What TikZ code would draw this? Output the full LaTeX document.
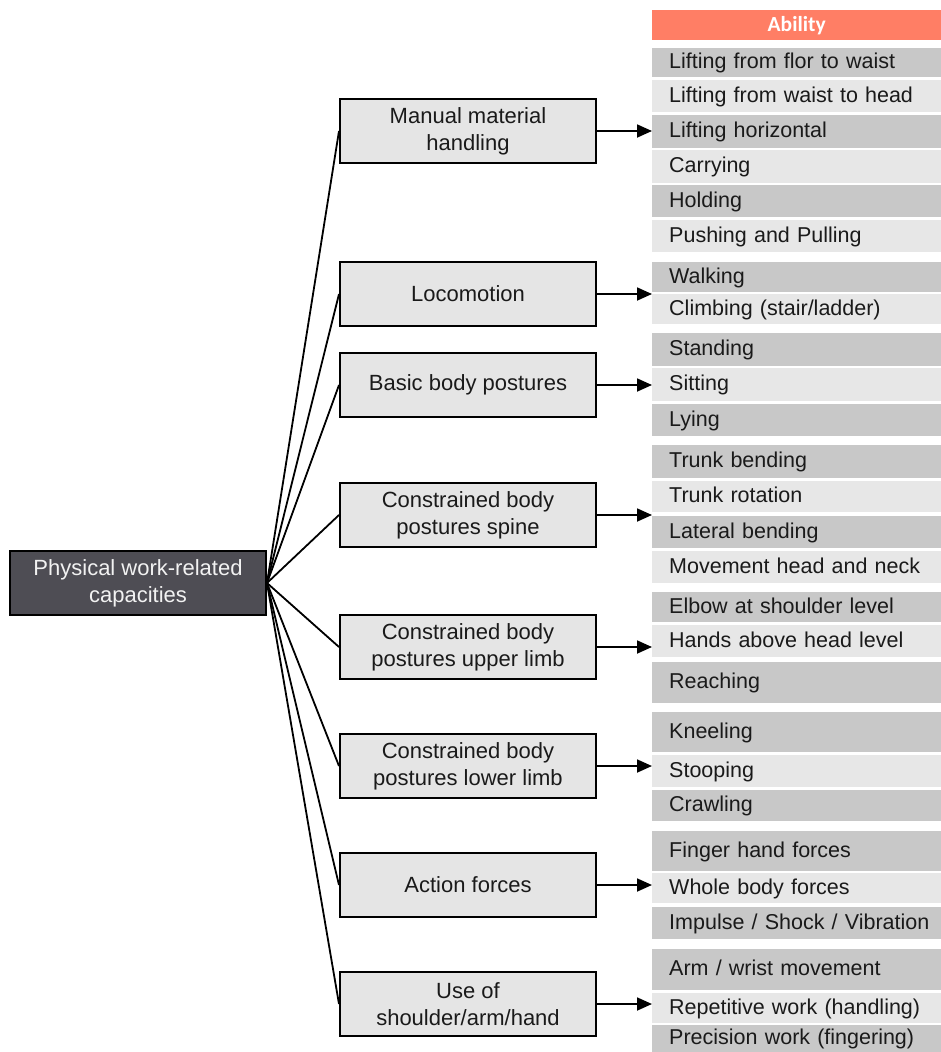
\documentclass[tikz,border=0pt]{standalone}
\usepackage{fontspec}
\setmainfont{Liberation Sans}
\newfontfamily\headfont{Carlito}
\usetikzlibrary{arrows.meta}

\definecolor{bandDark}{RGB}{200,200,200}
\definecolor{bandLight}{RGB}{231,231,231}
\definecolor{boxFill}{RGB}{229,229,229}
\definecolor{rootFill}{RGB}{78,77,84}
\definecolor{rootText}{RGB}{242,242,242}
\definecolor{headFill}{RGB}{255,126,101}
\definecolor{ink}{RGB}{26,26,26}

\tikzset{
  txt/.style={font=\fontsize{22}{27}\selectfont, text=ink},
  band/.style={font=\fontsize{21.5}{26}\selectfont, text=ink, rectangle, anchor=north west,
    inner xsep=0pt, inner ysep=0pt,
    text width=289pt, align=left, minimum width=289pt,
    text height=16pt, text depth=3.5pt},
  dk/.style={band, fill=bandDark},
  lt/.style={band, fill=bandLight},
  cat/.style={txt, rectangle, draw=black, line width=2pt, fill=boxFill,
    minimum width=256pt, minimum height=64pt, align=center, inner sep=0pt},
  root/.style={cat, fill=rootFill, text=rootText},
  link/.style={draw=black, line width=1.8pt},
  arr/.style={draw=black, line width=1.8pt, -{Triangle[length=15pt,width=13pt]}}
}

\newcommand{\ind}{\hspace*{17pt}}

\begin{document}
\begin{tikzpicture}[x=1pt,y=-1pt]
\useasboundingbox (0,0) rectangle (941,1052);

% ability column
\node[rectangle, fill=headFill, anchor=north west, minimum width=289pt, minimum height=30pt,
  inner sep=0pt, text=white, font=\headfont\bfseries\fontsize{21.5}{25}\selectfont] (head) at (652,10) {Ability};

\node[dk, minimum height=29pt] (r1) at (652,48) {\ind Lifting from flor to waist};
\node[lt, minimum height=32pt] (r2) at (652,80) {\ind Lifting from waist to head};
\node[dk, minimum height=33pt] (r3) at (652,115) {\ind Lifting horizontal};
\node[lt, minimum height=33pt] (r4) at (652,150) {\ind Carrying};
\node[dk, minimum height=32pt] (r5) at (652,185) {\ind Holding};
\node[lt, minimum height=32pt] (r6) at (652,220) {\ind Pushing and Pulling};

\node[dk, minimum height=30pt] (r7) at (652,262) {\ind Walking};
\node[lt, minimum height=30pt] (r8) at (652,294) {\ind Climbing (stair/ladder)};

\node[dk, minimum height=33pt] (r9) at (652,333) {\ind Standing};
\node[lt, minimum height=33pt] (r10) at (652,368) {\ind Sitting};
\node[dk, minimum height=32pt] (r11) at (652,404) {\ind Lying};

\node[dk, minimum height=33pt] (r12) at (652,445) {\ind Trunk bending};
\node[lt, minimum height=31pt] (r13) at (652,481) {\ind Trunk rotation};
\node[dk, minimum height=32pt] (r14) at (652,516) {\ind Lateral bending};
\node[lt, minimum height=32pt] (r15) at (652,551) {\ind Movement head and neck};

\node[dk, minimum height=30pt] (r16) at (652,592) {\ind Elbow at shoulder level};
\node[lt, minimum height=32pt] (r17) at (652,625) {\ind Hands above head level};
\node[dk, minimum height=41pt] (r18) at (652,662) {\ind Reaching};

\node[dk, minimum height=40pt] (r19) at (652,712) {\ind Kneeling};
\node[lt, minimum height=32pt] (r20) at (652,755) {\ind Stooping};
\node[dk, minimum height=31pt] (r21) at (652,790) {\ind Crawling};

\node[dk, minimum height=40pt] (r22) at (652,831) {\ind Finger hand forces};
\node[lt, minimum height=30pt] (r23) at (652,873) {\ind Whole body forces};
\node[dk, minimum height=32pt] (r24) at (652,907) {\ind Impulse / Shock / Vibration};

\node[dk, minimum height=41pt] (r25) at (652,949) {\ind Arm / wrist movement};
\node[lt, minimum height=30pt] (r26) at (652,993) {\ind Repetitive work (handling)};
\node[dk, minimum height=27pt] (r27) at (652,1025) {\ind Precision work (fingering)};

% capacity categories
\node[cat] (mmh) at (468,131) {Manual material\\handling};
\node[cat] (loc) at (468,294) {Locomotion};
\node[cat] (bbp) at (468,385) {Basic body postures};
\node[cat] (cps) at (468,515) {Constrained body\\postures spine};
\node[cat] (cpu) at (468,647) {Constrained body\\postures upper limb};
\node[cat] (cpl) at (468,766) {Constrained body\\postures lower limb};
\node[cat] (act) at (468,885) {Action forces};
\node[cat] (use) at (468,1004) {Use of\\shoulder/arm/hand};

% root
\node[root] (phys) at (138,583) {Physical work-related\\capacities};

% fan of links
\foreach \c in {mmh,loc,bbp,cps,cpu,cpl,act,use}
  \draw[link] (phys.east) -- (\c.west);

% arrows into the ability column
\draw[arr] (mmh.east) -- (mmh.east -| r3.west);
\draw[arr] (loc.east) -- (loc.east -| r8.west);
\draw[arr] (bbp.east) -- (bbp.east -| r10.west);
\draw[arr] (cps.east) -- (cps.east -| r14.west);
\draw[arr] (cpu.east) -- (cpu.east -| r17.west);
\draw[arr] (cpl.east) -- (cpl.east -| r20.west);
\draw[arr] (act.east) -- (act.east -| r23.west);
\draw[arr] (use.east) -- (use.east -| r26.west);
\end{tikzpicture}
\end{document}
